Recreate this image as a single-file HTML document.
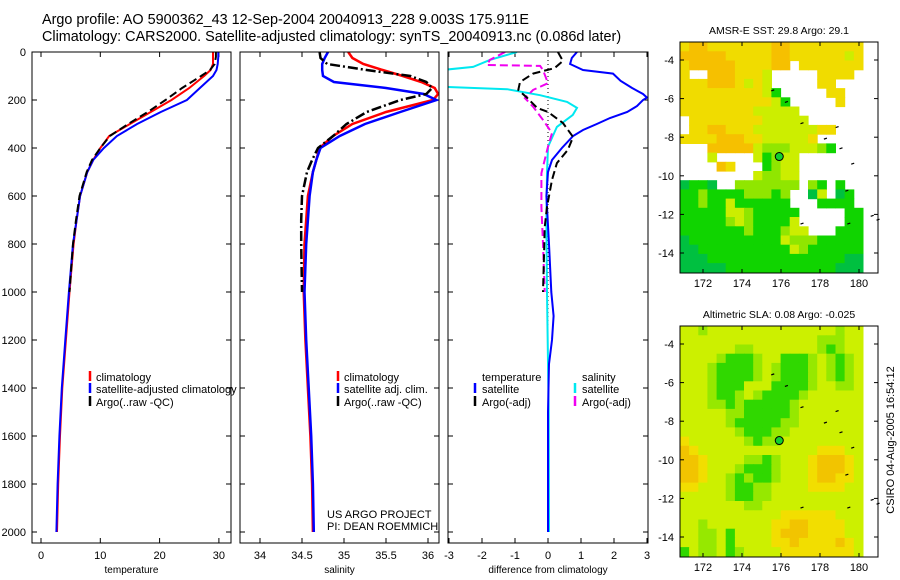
<!DOCTYPE html>
<html><head><meta charset="utf-8"><style>
body{margin:0;background:#fff;}
svg{display:block;font-family:"Liberation Sans",sans-serif;}
</style></head><body>
<svg id="c" width="900" height="580" viewBox="0 0 900 580">
<text x="42" y="24" font-size="14.4">Argo profile: AO 5900362_43 12-Sep-2004 20040913_228 9.003S 175.911E</text>
<text x="42" y="41" font-size="14.4">Climatology: CARS2000. Satellite-adjusted climatology: synTS_20040913.nc (0.086d later)</text>
</svg>
<script>
// ---- data ----
const tDepth=[0,20,50,75,100,150,200,250,300,350,400,450,500,600,700,800,1000,1200,1400,1600,1800,2000];
const tClim=[29.0,29.0,29.0,28.6,27.5,25.0,22.0,18.5,15.0,11.5,10.0,8.8,7.8,6.6,6.0,5.5,4.8,4.2,3.6,3.2,2.9,2.7];
const tSat=[29.9,29.9,29.8,29.6,29.0,26.8,24.6,20.2,16.2,12.8,10.6,8.8,7.8,6.6,6.0,5.4,4.7,4.1,3.5,3.1,2.8,2.6];
const tArgo=[29.5,29.5,29.3,28.5,27.0,23.8,21.0,18.0,14.7,11.6,10.0,8.6,7.7,6.5,5.9,5.4,4.8];
const sDepth=[0,25,50,75,100,125,150,175,200,250,300,350,400,450,500,600,700,800,1000,1200,1400,1600,1800,2000];
const sClim=[35.05,35.1,35.23,35.46,35.7,35.92,36.08,36.12,36.06,35.5,35.1,34.87,34.71,34.67,34.63,34.57,34.55,34.53,34.52,34.54,34.57,34.6,34.62,34.63];
const sSat=[34.81,34.77,34.74,34.74,34.75,34.88,35.5,35.95,36.1,35.67,35.25,34.95,34.72,34.67,34.63,34.59,34.57,34.55,34.53,34.55,34.58,34.61,34.63,34.64];
const sArgo=[34.71,34.72,34.8,35.27,35.79,35.98,36.05,35.98,35.67,35.27,35.03,34.87,34.69,34.62,34.56,34.5,34.49,34.49,34.5];
const dTDepth=[0,25,50,75,90,120,150,175,190,200,225,250,275,300,325,350,400,450,500,600,800,1000,1100,1200,1300,1500,2000];
const dTSat=[0.88,0.72,0.67,1.06,1.97,2.2,2.55,2.88,3.0,2.88,2.7,2.4,1.88,1.48,1.06,0.76,0.42,0.12,0.0,-0.05,0.03,0.1,0.17,0.12,0.03,0.0,0.0];
const dTArgoDepth=[0,37,67,90,125,158,190,233,250,296,354,408,463,533,645,730,850,1000];
const dTArgo=[0.3,0.45,0.2,-0.45,-0.85,-0.9,-0.64,-0.33,0.0,0.45,0.76,0.6,0.27,0.12,-0.03,-0.1,-0.12,-0.15];
const dSSatDepth=[0,33,62,75,100,145,155,180,208,233,262,312,395,505,700,1000,1500,2000];
const dSSat=[-0.94,-1.76,-2.27,-3.2,-3.5,-3.2,-1.24,-0.24,0.58,0.88,0.75,0.27,0.0,-0.03,-0.05,-0.03,0.02,0.03];
const dSArgoDepth=[0,33,54,58,75,130,158,192,228,283,338,395,505,645,800,1000];
const dSArgo=[-1.3,-1.76,-1.85,-0.24,-0.15,0.0,-0.45,-0.7,-0.45,-0.15,0.12,0.0,-0.2,-0.2,-0.15,-0.1];
const depthTicks=[0,200,400,600,800,1000,1200,1400,1600,1800,2000];
const tTicks=[0,10,20,30];
const sTicks=[34,34.5,35,35.5,36];
const dTicks=[-3,-2,-1,0,1,2,3];
const sstGrid=["yYYyyyyyyyYYyyyyyyyy","YYYYYyyyyyYYyyyyyyly","yYYYYYyyyyYY.yyyyyyy","y..YYYyyyl.....yyyy.","yyyYYYylyl.....yy...","yyyyyyyyylG.....yy..","yyyyyyyyyylG.....y..","yyyyyyyylllll.......",".yyyyyyyylllll......",".yyYYyyylllllllyy...","yyyyYYYyyllllly.....","...YYYYYlggglllgG...","...l....lGgll.......","....Yy...Ggll.......","........lggll.......","DGGD..ggggggg.gG.G..","GGgGGGGgggGg..Dl.DG.","GGgGGlGGGGGG...GGGG.","GGGGGllgGGGGG.....GG","GGGGGglgGGGGl.....GG","GGGGGGGgGGGgll...GGG","DGGGGGGGGGGlgggGGGGG","DDGGGGGGGGGGlgGGGGGG","DDDGGGGGGGGGGGGGGGDD","DDDDDGGGGGGGGGGGGDDD"];
const slaGrid=["llgllllllllllllllgll","lllllllllllllllgggll","llllllgglllllllgGgll","llllgGGGgllGGGglgGgl","lllgGGGGglgGGGglgGgl","lllgGGGGglgGGGglgGgl","lllgGGGlllGGGGgllggl","lllgGGglgGGGGgllllll","lllggGgGGGGGglllllll","lllllggGGGGGglllllll","lllllgGGGGGgglllllll","llllllgGGGggllllllll","yllllllgGgglllllllll","Yylllllllllllllyyyll","YYyllllggGglllyYYYyl","YYylllgGGGglllyYYYyl","YYyllgGgGGglllyYYyyl","yylllgGGggllllyyyyll","lllllgGGggllllllllll","lllllllgglllllllllll","lllllllllllyyyyyylll","llglllllllyyYYyyyyll","llgglGllllyYYYyyyyll","llgglGllllyyYyyyyYyl","GlgglGgllllyyyyyyyyl"];
const sstColors={Y:"#f6c000",y:"#f0dc00",l:"#ccee00",g:"#90e600",G:"#10d400",D:"#00c040"};
const slaColors={Y:"#f2c400",y:"#f2de00",l:"#ccf000",g:"#96e800",G:"#30d800",D:"#10c830"};

const NS="http://www.w3.org/2000/svg";
const svg=document.getElementById('c');
function mk(tag,attrs,parent){const e=document.createElementNS(NS,tag);for(const k in attrs)e.setAttribute(k,attrs[k]);(parent||svg).appendChild(e);return e;}
const yD=d=>52+d*0.24;
const panels=[
 {x0:32,x1:231,fx:v=>41+v*5.93,ticks:tTicks,title:"temperature",name:"temperature-panel"},
 {x0:240,x1:439,fx:v=>260+(v-34)*84,ticks:sTicks,title:"salinity",name:"salinity-panel"},
 {x0:448,x1:648,fx:v=>548+v*33,ticks:dTicks,title:"difference from climatology",name:"difference-panel"}];
const yTop=52,yBot=543;
panels.forEach((p,i)=>{
 const g=mk('g',{});
 
 
 const cp=mk('clipPath',{id:'cp'+i},g);mk('rect',{x:p.x0,y:yTop,width:p.x1-p.x0,height:yBot-yTop},cp);
 p.g=g;p.clip='url(#cp'+i+')';
 p.ticks.forEach(t=>{const x=p.fx(t);
  mk('line',{x1:x,x2:x,y1:yTop,y2:yTop+5,stroke:'#000'},g);mk('line',{x1:x,x2:x,y1:yBot,y2:yBot-5,stroke:'#000'},g);
  const tx=mk('text',{x:x,y:559,'font-size':11,'text-anchor':'middle'},g);tx.textContent=t;
  
  });
 depthTicks.forEach(d=>{const y=yD(d);
  mk('line',{x1:p.x0,x2:p.x0+5,y1:y,y2:y,stroke:'#000'},g);mk('line',{x1:p.x1,x2:p.x1-5,y1:y,y2:y,stroke:'#000'},g);
  if(i===0){const tx=mk('text',{x:26,y:y+4,'font-size':11,'text-anchor':'end'},g);tx.textContent=d;
   
   }});
 const tt=mk('text',{x:(p.x0+p.x1)/2,y:573,'font-size':10,'text-anchor':'middle'},g);tt.textContent=p.title;
 
 
});
function line(p,depths,vals,color,dash,name,w){
 const pts=vals.map((v,k)=>p.fx(v).toFixed(1)+','+yD(depths[k]).toFixed(1)).join(' ');
 const e=mk('polyline',{points:pts,fill:'none',stroke:color,'stroke-width':w||2,'clip-path':p.clip},p.g);
 if(dash)e.setAttribute('stroke-dasharray',dash);
 
 
}
const P=panels;
const zl=mk('line',{x1:548,x2:548,y1:yTop,y2:yD(1350),stroke:'#000','stroke-dasharray':'1,3'},P[2].g);


line(P[0],tDepth,tClim,'#f00',null,'temperature-climatology-line');
line(P[0],tDepth,tSat,'#00f',null,'temperature-satellite-line');
line(P[0],tDepth.slice(0,tArgo.length),tArgo,'#000','8,4','temperature-argo-line');
line(P[1],sDepth,sClim,'#f00',null,'salinity-climatology-line',2.5);
line(P[1],sDepth,sSat,'#00f',null,'salinity-satellite-line',2.5);
line(P[1],sDepth.slice(0,sArgo.length),sArgo,'#000','10,3,2,3','salinity-argo-line',2.5);
line(P[2],dSSatDepth,dSSat,'#00e8f0',null,'salinity-diff-satellite-line');
line(P[2],dSArgoDepth,dSArgo,'#f000f0','8,4','salinity-diff-argo-line');
line(P[2],dTDepth,dTSat,'#00f',null,'temperature-diff-satellite-line');
line(P[2],dTArgoDepth,dTArgo,'#000','8,4','temperature-diff-argo-line');
panels.forEach(p=>{const r=mk('rect',{x:p.x0,y:yTop,width:p.x1-p.x0,height:yBot-yTop,fill:'none',stroke:'#000'},p.g);
 
 });
function leg(g,x,y,color,label,barX){
 if(color){const b=mk('line',{x1:barX,x2:barX,y1:y-10,y2:y,stroke:color,'stroke-width':2.5},g);
  
  }
 const t=mk('text',{x:x,y:y,'font-size':11},g);t.textContent=label;
 
 
}
leg(P[0].g,96,381,'#f00','climatology',90);
leg(P[0].g,96,393,'#00f','satellite-adjusted climatology',90);
leg(P[0].g,96,406,'#000','Argo(..raw -QC)',90);
leg(P[1].g,344,381,'#f00','climatology',338);
leg(P[1].g,344,393,'#00f','satellite adj. clim.',338);
leg(P[1].g,344,406,'#000','Argo(..raw -QC)',338);
leg(P[2].g,482,381,null,'temperature',0);
leg(P[2].g,482,393,'#00f','satellite',475);
leg(P[2].g,482,406,'#000','Argo(-adj)',475);
leg(P[2].g,582,381,null,'salinity',0);
leg(P[2].g,582,393,'#00e8f0','satellite',575);
leg(P[2].g,582,406,'#f000f0','Argo(-adj)',575);
const n1=mk('text',{x:327,y:518,'font-size':11});n1.textContent='US ARGO PROJECT';


const n2=mk('text',{x:327,y:530,'font-size':11});n2.textContent='PI: DEAN ROEMMICH';


const lonTicks=[172,174,176,178,180], latTicks=[-4,-6,-8,-10,-12,-14];
function drawMap(off,grid,colors,title,name){
 const g=mk('g',{});
 
 
 const lx=lon=>703+(lon-172)*19.5, ly=lat=>off+60+(-4-lat)*19.3;
 const lon0=170.82,lon1=180.2,lat0=-3.07,lat1=-15.0;
 const cw=(lon1-lon0)/20, ch=(lat0-lat1)/25;
 grid.forEach((row,r)=>{for(let c=0;c<20;c++){const k=row[c];if(!k||!colors[k])continue;
  const x=lx(lon0+c*cw),y=ly(lat0-r*ch);
  const cell=mk('rect',{x:x.toFixed(1),y:y.toFixed(1),width:(cw*19.5+0.6).toFixed(1),height:(ch*19.3+0.6).toFixed(1),fill:colors[k]},g);
  
  }});
 [[175.5,-5.6],[176.2,-6.2],[177.0,-7.3],[178.2,-8.1],[178.8,-7.5],[179.0,-8.6],[179.6,-9.4],[179.3,-10.8],[177.0,-12.5],[179.4,-12.5],[180.6,-12.1],[180.9,-12.3]].forEach(p=>{
  const m=mk('line',{x1:lx(p[0]),x2:lx(p[0])+3,y1:ly(p[1]),y2:ly(p[1])-1,stroke:'#000','stroke-width':1.2},g);
  
  });
 const f=mk('circle',{cx:lx(175.911),cy:ly(-9.003),r:4,fill:'#10d030',stroke:'#000'},g);
 
 
 const y0=off+42,y1=off+273;
 const fr=mk('rect',{x:680,y:y0,width:198,height:231,fill:'none',stroke:'#000'},g);
 
 
 lonTicks.forEach(l=>{const x=lx(l);mk('line',{x1:x,x2:x,y1:y0,y2:y0+4,stroke:'#000'},g);mk('line',{x1:x,x2:x,y1:y1,y2:y1-4,stroke:'#000'},g);
  const t=mk('text',{x:x,y:y1+14,'font-size':11,'text-anchor':'middle'},g);t.textContent=l;
  
  });
 latTicks.forEach(l=>{const y=ly(l);mk('line',{x1:680,x2:684,y1:y,y2:y,stroke:'#000'},g);mk('line',{x1:878,x2:874,y1:y,y2:y,stroke:'#000'},g);
  const t=mk('text',{x:674,y:y+4,'font-size':11,'text-anchor':'end'},g);t.textContent=l;
  
  });
 const tt=mk('text',{x:779,y:off+34,'font-size':10.5,'text-anchor':'middle'},g);tt.textContent=title;
 
 
}
drawMap(0,sstGrid,sstColors,'AMSR-E SST: 29.8 Argo: 29.1','sst-map');
drawMap(284,slaGrid,slaColors,'Altimetric SLA: 0.08 Argo: -0.025','sla-map');
const cs=mk('text',{x:0,y:0,'font-size':11,'text-anchor':'middle',transform:'translate(894,440) rotate(-90)'});
cs.textContent='CSIRO 04-Aug-2005 16:54:12';


</script>
</body></html>
